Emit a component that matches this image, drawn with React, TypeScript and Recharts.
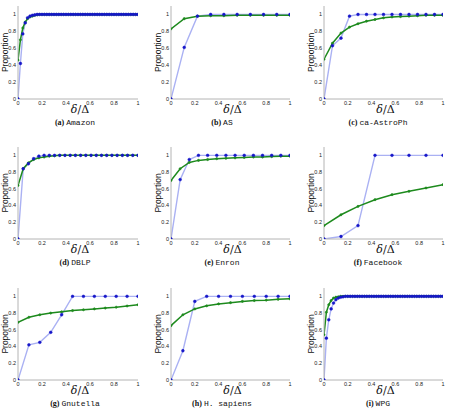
import { Line, LineChart, XAxis, YAxis } from "recharts";

const xTicks = [0, 0.2, 0.4, 0.6, 0.8, 1];
const yTicks = [0, 0.2, 0.4, 0.6, 0.8, 1];

// Amazon, 51 samples of delta/Delta
const amazonBlue = [
  0, 0.42, 0.77, 0.9, 0.96, 0.98, 0.99, 0.995, 1, 1, 1, 1, 1, 1, 1, 1, 1, 1, 1, 1, 1, 1, 1, 1, 1, 1,
  1, 1, 1, 1, 1, 1, 1, 1, 1, 1, 1, 1, 1, 1, 1, 1, 1, 1, 1, 1, 1, 1, 1, 1, 1,
];
const amazonGreen = [
  0.46, 0.7, 0.84, 0.91, 0.95, 0.97, 0.98, 0.99, 0.995, 1, 1, 1, 1, 1, 1, 1, 1, 1, 1, 1, 1, 1, 1, 1,
  1, 1, 1, 1, 1, 1, 1, 1, 1, 1, 1, 1, 1, 1, 1, 1, 1, 1, 1, 1, 1, 1, 1, 1, 1, 1, 1,
];

// AS, 10 samples
const asBlue = [0, 0.61, 0.98, 1, 1, 1, 1, 1, 1, 1];
const asGreen = [0.83, 0.95, 0.98, 0.985, 0.985, 0.99, 0.99, 0.99, 0.99, 0.99];

// ca-AstroPh, 15 samples
const astroBlue = [0, 0.63, 0.72, 0.98, 1, 1, 1, 1, 1, 1, 1, 1, 1, 1, 1];
const astroGreen = [
  0.47, 0.66, 0.78, 0.85, 0.89, 0.92, 0.94, 0.96, 0.97, 0.975, 0.98, 0.985, 0.99, 0.99, 0.99,
];

// DBLP, 24 samples
const dblpBlue = [0, 0.84, 0.9, 0.96, 0.99, 1, 1, 1, 1, 1, 1, 1, 1, 1, 1, 1, 1, 1, 1, 1, 1, 1, 1, 1];
const dblpGreen = [
  0.64, 0.84, 0.91, 0.95, 0.97, 0.98, 0.99, 0.995, 1, 1, 1, 1, 1, 1, 1, 1, 1, 1, 1, 1, 1, 1, 1, 1,
];

// Enron, 14 samples
const enronBlue = [0, 0.71, 0.95, 1, 1, 1, 1, 1, 1, 1, 1, 1, 1, 1];
const enronGreen = [0.7, 0.84, 0.915, 0.94, 0.95, 0.96, 0.965, 0.97, 0.975, 0.98, 0.98, 0.985, 0.99, 0.99];

// Facebook, 8 samples
const facebookBlue = [0, 0.03, 0.16, 1, 1, 1, 1, 1];
const facebookGreen = [0.16, 0.29, 0.39, 0.47, 0.53, 0.57, 0.61, 0.65];

// Gnutella, 12 samples
const gnutellaBlue = [0, 0.42, 0.45, 0.57, 0.78, 1, 1, 1, 1, 1, 1, 1];
const gnutellaGreen = [0.69, 0.75, 0.78, 0.8, 0.815, 0.83, 0.84, 0.85, 0.86, 0.87, 0.885, 0.9];

// H. sapiens, 11 samples
const sapiensBlue = [0, 0.35, 0.94, 1, 1, 1, 1, 1, 1, 1, 1];
const sapiensGreen = [0.65, 0.78, 0.85, 0.887, 0.91, 0.925, 0.94, 0.95, 0.955, 0.965, 0.97];

// WPG, 51 samples
const wpgBlue = [
  0, 0.5, 0.72, 0.85, 0.92, 0.96, 0.98, 0.99, 0.995, 1, 1, 1, 1, 1, 1, 1, 1, 1, 1, 1, 1, 1, 1, 1, 1,
  1, 1, 1, 1, 1, 1, 1, 1, 1, 1, 1, 1, 1, 1, 1, 1, 1, 1, 1, 1, 1, 1, 1, 1, 1, 1,
];
const wpgGreen = [
  0.54, 0.81, 0.9, 0.95, 0.98, 0.99, 0.995, 1, 1, 1, 1, 1, 1, 1, 1, 1, 1, 1, 1, 1, 1, 1, 1, 1, 1, 1,
  1, 1, 1, 1, 1, 1, 1, 1, 1, 1, 1, 1, 1, 1, 1, 1, 1, 1, 1, 1, 1, 1, 1, 1, 1,
];

const panels = [
  { tag: "(a)", name: "Amazon", blue: amazonBlue, green: amazonGreen },
  { tag: "(b)", name: "AS", blue: asBlue, green: asGreen },
  { tag: "(c)", name: "ca-AstroPh", blue: astroBlue, green: astroGreen },
  { tag: "(d)", name: "DBLP", blue: dblpBlue, green: dblpGreen },
  { tag: "(e)", name: "Enron", blue: enronBlue, green: enronGreen },
  { tag: "(f)", name: "Facebook", blue: facebookBlue, green: facebookGreen },
  { tag: "(g)", name: "Gnutella", blue: gnutellaBlue, green: gnutellaGreen },
  { tag: "(h)", name: "H. sapiens", blue: sapiensBlue, green: sapiensGreen },
  { tag: "(i)", name: "WPG", blue: wpgBlue, green: wpgGreen },
];

// grid geometry
const colLeft = [0, 150, 300];
const yAxisW = [18, 21, 24];
const plotW = [120, 119, 119];
const captionX = [75, 222, 378];
const rowTop = [0, 140, 280];
const plotTop = [6, 7, 8];
const plotH = [93, 92, 92];
const CHART_W = 150;
const X_AXIS_H = 30;

const BLUE_LINE = "#aab1f3";
const BLUE_DOT = "#1616c8";
const GREEN = "#1d8a1d";
const BOX = "#b4b4b4";
const tickStyle = { fontSize: 5.5, fill: "#222", fontFamily: "Liberation Sans" };

const fmt = (v: number) => `${v}`;

function YLabel(props: any) {
  const vb = props.viewBox || {};
  const cx = vb.x + vb.width - 13;
  const cy = vb.y + vb.height / 2;
  return (
    <text
      x={cx}
      y={cy}
      transform={`rotate(-90 ${cx} ${cy})`}
      textAnchor="middle"
      dominantBaseline="central"
      fontSize={8.5}
      fontFamily="Liberation Sans"
      fill="#111"
    >
      Proportion
    </text>
  );
}

function XLabel(props: any) {
  const vb = props.viewBox || {};
  return (
    <text
      x={vb.x + vb.width / 2 + 2}
      y={vb.y + 13.5}
      textAnchor="middle"
      fontSize={11}
      fontFamily="DejaVu Serif"
      fill="#111"
    >
      <tspan fontStyle="italic">δ</tspan>
      <tspan>/Δ</tspan>
    </text>
  );
}

function Panel({ index }: { index: number }) {
  const p = panels[index];
  const col = index % 3;
  const row = Math.floor(index / 3);
  const n = p.blue.length;
  const data = p.blue.map((b, i) => ({ x: i / (n - 1), blue: b, green: p.green[i] }));
  const height = plotTop[row] + plotH[row] + X_AXIS_H;
  const right = CHART_W - yAxisW[col] - plotW[col];

  return (
    <div style={{ position: "absolute", left: colLeft[col], top: rowTop[row] }}>
      <LineChart
        width={CHART_W}
        height={height}
        data={data}
        margin={{ top: plotTop[row], right, left: 0, bottom: 0 }}
      >
        <XAxis
          dataKey="x"
          type="number"
          domain={[0, 1]}
          ticks={xTicks}
          tickFormatter={fmt}
          height={X_AXIS_H}
          tick={tickStyle}
          tickLine={false}
          tickSize={1}
          tickMargin={1}
          axisLine={{ stroke: BOX }}
          label={<XLabel />}
          allowDataOverflow
        />
        <XAxis
          xAxisId="top"
          orientation="top"
          dataKey="x"
          type="number"
          domain={[0, 1]}
          height={0}
          tick={false}
          tickLine={false}
          axisLine={{ stroke: BOX }}
        />
        <YAxis
          type="number"
          domain={[0, 1.1]}
          ticks={yTicks}
          tickFormatter={fmt}
          width={yAxisW[col]}
          tick={tickStyle}
          tickLine={false}
          tickSize={1}
          tickMargin={1}
          axisLine={{ stroke: BOX }}
          label={<YLabel />}
          allowDataOverflow
        />
        <YAxis
          yAxisId="right"
          orientation="right"
          type="number"
          domain={[0, 1.1]}
          width={0}
          tick={false}
          tickLine={false}
          axisLine={{ stroke: BOX }}
        />
        <Line
          dataKey="blue"
          stroke={BLUE_LINE}
          strokeWidth={1.4}
          dot={false}
          isAnimationActive={false}
        />
        <Line
          dataKey="green"
          stroke={GREEN}
          strokeWidth={1.5}
          dot={{ r: 1.1, fill: GREEN, stroke: GREEN, strokeWidth: 0.6 }}
          isAnimationActive={false}
        />
        <Line
          dataKey="blue"
          stroke="none"
          dot={{ r: 1.4, fill: BLUE_DOT, stroke: BLUE_DOT, strokeWidth: 0.5 }}
          isAnimationActive={false}
        />
      </LineChart>
      <div
        style={{
          position: "absolute",
          left: captionX[col] - colLeft[col] - 75,
          top: plotTop[row] + plotH[row] + 18,
          width: 150,
          textAlign: "center",
          fontSize: 8,
          lineHeight: "11px",
          color: "#111",
          whiteSpace: "nowrap",
        }}
      >
        <span style={{ fontFamily: "Liberation Serif", fontWeight: "bold" }}>{p.tag}</span>{" "}
        <span style={{ fontFamily: "Liberation Mono" }}>{p.name}</span>
      </div>
    </div>
  );
}

export default function App() {
  return (
    <div
      style={{
        position: "absolute",
        left: 0,
        top: 0,
        width: 450,
        height: 410,
        background: "#fff",
      }}
    >
      {panels.map((_, i) => (
        <Panel key={i} index={i} />
      ))}
    </div>
  );
}
